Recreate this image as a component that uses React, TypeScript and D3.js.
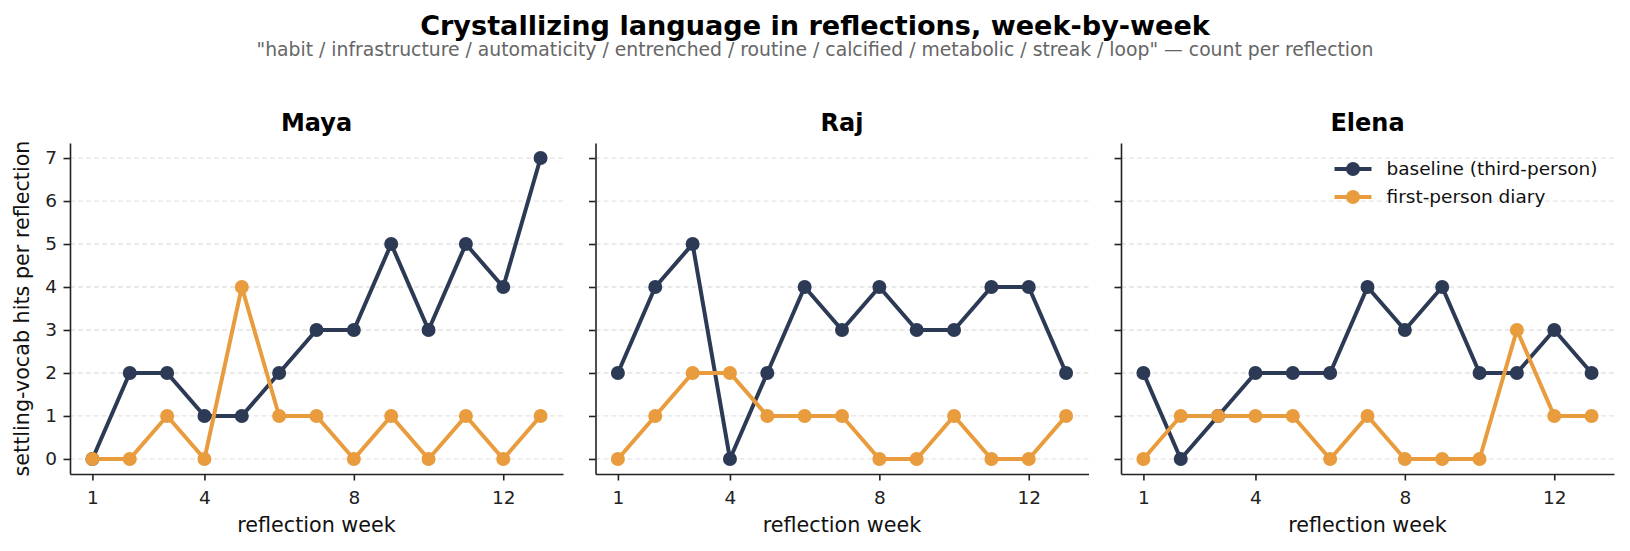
import { useRef, useEffect } from 'react';
import * as d3 from 'd3';

const weeks = [1, 2, 3, 4, 5, 6, 7, 8, 9, 10, 11, 12, 13];
const people = ['Maya', 'Raj', 'Elena'];

const mayaBaseline = [0, 2, 2, 1, 1, 2, 3, 3, 5, 3, 5, 4, 7];
const mayaDiary = [0, 0, 1, 0, 4, 1, 1, 0, 1, 0, 1, 0, 1];
const rajBaseline = [2, 4, 5, 0, 2, 4, 3, 4, 3, 3, 4, 4, 2];
const rajDiary = [0, 1, 2, 2, 1, 1, 1, 0, 0, 1, 0, 0, 1];
const elenaBaseline = [2, 0, 1, 2, 2, 2, 4, 3, 4, 2, 2, 3, 2];
const elenaDiary = [0, 1, 1, 1, 1, 0, 1, 0, 0, 0, 3, 1, 1];

const seriesLabels = ['baseline (third-person)', 'first-person diary'];
const seriesColors = ['#2c3a55', '#e89c3e'];
const xTicks = [1, 4, 8, 12];
const yTicks = [0, 1, 2, 3, 4, 5, 6, 7];

const title = 'Crystallizing language in reflections, week-by-week';
const subtitle =
  '"habit / infrastructure / automaticity / entrenched / routine / calcified / metabolic / streak / loop" \u2014 count per reflection';

const FONT = '"DejaVu Sans", sans-serif';

export default function App() {
  const svgRef = useRef<SVGSVGElement>(null);

  useEffect(() => {
    document.body.style.margin = '0';
    if (!svgRef.current) return;
    const width = 1630;
    const height = 551;
    const svg = d3.select(svgRef.current);
    svg.selectAll('*').remove();
    svg.attr('width', width).attr('height', height).style('font-family', FONT);

    svg.append('rect').attr('width', width).attr('height', height).attr('fill', '#fff');

    svg.append('text')
      .attr('x', 815).attr('y', 35)
      .attr('text-anchor', 'middle')
      .style('font-size', '27.1px').style('font-weight', 'bold')
      .attr('fill', '#000')
      .text(title);

    svg.append('text')
      .attr('x', 815).attr('y', 56)
      .attr('text-anchor', 'middle')
      .style('font-size', '18.8px')
      .attr('fill', '#666')
      .text(subtitle);

    const panels = [
      { name: people[0], series: [mayaBaseline, mayaDiary] },
      { name: people[1], series: [rajBaseline, rajDiary] },
      { name: people[2], series: [elenaBaseline, elenaDiary] },
    ];

    const top = 143;
    const innerH = 331;
    const innerW = 493;
    const lefts = [70, 595.5, 1121];

    const x = d3.scaleLinear().domain([0.4, 13.6]).range([0, innerW]);
    const y = d3.scaleLinear().domain([-0.35, 7.35]).range([innerH, 0]);

    panels.forEach((p, i) => {
      const g = svg.append('g').attr('transform', `translate(${lefts[i]},${top})`);

      // dashed horizontal grid
      g.selectAll('.grid')
        .data(yTicks)
        .enter()
        .append('line')
        .attr('x1', 0).attr('x2', innerW)
        .attr('y1', (d) => y(d)).attr('y2', (d) => y(d))
        .attr('stroke', '#e3e3e3')
        .attr('stroke-width', 1.3)
        .attr('stroke-dasharray', '5,3');

      const xa = g.append('g')
        .attr('transform', `translate(0,${innerH})`)
        .call(d3.axisBottom(x).tickValues(xTicks).tickSize(6.5).tickPadding(10).tickSizeOuter(0));
      const ya = g.append('g')
        .call(
          d3.axisLeft(y)
            .tickValues(yTicks)
            .tickSize(6.5)
            .tickPadding(6.5)
            .tickSizeOuter(0)
            .tickFormat((d) => (i === 0 ? String(d) : ''))
        );
      [xa, ya].forEach((a) => {
        a.selectAll('text').attr('fill', '#222').style('font-size', '18.5px').style('font-family', FONT);
        a.selectAll('.domain').attr('stroke', '#222').attr('stroke-width', 1.6);
        a.selectAll('.tick line').attr('stroke', '#222').attr('stroke-width', 1.6);
      });

      g.append('text')
        .attr('x', innerW / 2).attr('y', -12)
        .attr('text-anchor', 'middle')
        .style('font-size', '24px').style('font-weight', 'bold')
        .attr('fill', '#000')
        .text(p.name);

      g.append('text')
        .attr('x', innerW / 2).attr('y', 388.5)
        .attr('text-anchor', 'middle')
        .style('font-size', '20.7px')
        .attr('fill', '#111')
        .text('reflection week');

      const line = d3.line<number>()
        .x((_, k) => x(weeks[k]))
        .y((d) => y(d));

      p.series.forEach((vals, s) => {
        g.append('path')
          .datum(vals)
          .attr('d', line)
          .attr('fill', 'none')
          .attr('stroke', seriesColors[s])
          .attr('stroke-width', 4)
          .attr('stroke-linejoin', 'round');
        g.selectAll(`.pt${s}`)
          .data(vals)
          .enter()
          .append('circle')
          .attr('cx', (_, k) => x(weeks[k]))
          .attr('cy', (d) => y(d))
          .attr('r', 7)
          .attr('fill', seriesColors[s]);
      });

      if (i === 2) {
        const lg = g.append('g').attr('transform', `translate(${innerW - 16.5 - 211},${26})`);
        seriesLabels.forEach((lab, s) => {
          const row = lg.append('g').attr('transform', `translate(0,${s * 28})`);
          row.append('line')
            .attr('x1', -52).attr('x2', -15)
            .attr('stroke', seriesColors[s]).attr('stroke-width', 4);
          row.append('circle').attr('cx', -33.5).attr('r', 7).attr('fill', seriesColors[s]);
          row.append('text')
            .attr('x', 0).attr('dy', '0.35em')
            .style('font-size', '18.5px')
            .attr('fill', '#111')
            .text(lab);
        });
      }
    });

    svg.append('text')
      .attr('transform', `translate(22,${top + innerH / 2}) rotate(-90)`)
      .attr('text-anchor', 'middle')
      .attr('dy', '0.35em')
      .style('font-size', '20.7px')
      .attr('fill', '#111')
      .text('settling-vocab hits per reflection');
  }, []);

  return (
    <div>
      <svg ref={svgRef} />
    </div>
  );
}
